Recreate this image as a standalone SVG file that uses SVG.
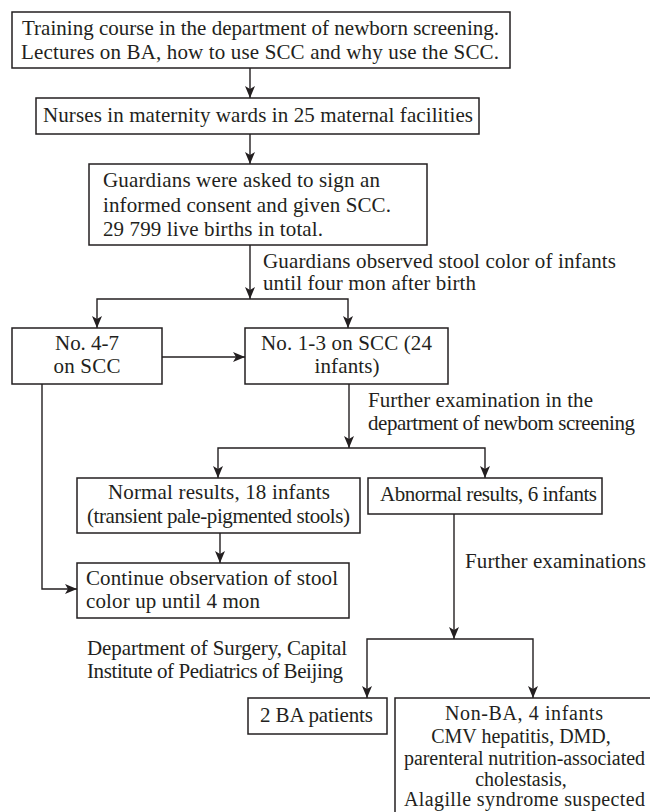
<svg xmlns="http://www.w3.org/2000/svg" width="650" height="812" viewBox="0 0 650 812">
<style>
.box{fill:#fff;stroke:#231f20;stroke-width:1.5}
.t{font-family:"Liberation Serif","Times New Roman",serif;font-size:21px;fill:#231f20}
.s{font-size:20px}
.m{text-anchor:middle}
.c{fill:none;stroke:#231f20;stroke-width:1.4}
</style>
<defs>
<marker id="ah" markerUnits="userSpaceOnUse" markerWidth="12" markerHeight="10" viewBox="0 0 12 10" refX="12" refY="5" orient="auto">
<path d="M0,0 L12,5 L0,10 L3,5 Z" fill="#231f20"/>
</marker>
</defs>
<rect width="650" height="812" fill="#fff"/>
<g id="connectors">
<path class="c" d="M250,68 V98" marker-end="url(#ah)"/>
<path class="c" d="M250,134 V164" marker-end="url(#ah)"/>
<path class="c" d="M250,245 V299" marker-end="url(#ah)"/>
<path class="c" d="M250,299 H97 V328" marker-end="url(#ah)"/>
<path class="c" d="M250,299 H348 V328" marker-end="url(#ah)"/>
<path class="c" d="M162,357 H245" marker-end="url(#ah)"/>
<path class="c" d="M349,384 V448" marker-end="url(#ah)"/>
<path class="c" d="M349,448 H218 V478" marker-end="url(#ah)"/>
<path class="c" d="M349,448 H485 V478" marker-end="url(#ah)"/>
<path class="c" d="M220,533 V563" marker-end="url(#ah)"/>
<path class="c" d="M42,384 V589 H77" marker-end="url(#ah)"/>
<path class="c" d="M454,514 V639" marker-end="url(#ah)"/>
<path class="c" d="M454,639 H367 V698" marker-end="url(#ah)"/>
<path class="c" d="M454,639 H533 V698" marker-end="url(#ah)"/>
</g>
<g id="labels">
<text class="t" x="263" y="268" textLength="353">Guardians observed stool color of infants</text>
<text class="t" x="263" y="290" textLength="213">until four mon after birth</text>
<text class="t" x="368" y="407" textLength="225">Further examination in the</text>
<text class="t" x="368" y="430" textLength="267">department of newbom screening</text>
<text class="t" x="465" y="568" textLength="181">Further examinations</text>
<text class="t" x="87" y="655" textLength="260">Department of Surgery, Capital</text>
<text class="t" x="87" y="678" textLength="256">Institute of Pediatrics of Beijing</text>
</g>
<g id="training">
<rect class="box" x="12" y="12" width="498" height="56"/>
<text class="t" x="22" y="35" textLength="477">Training course in the department of newborn screening.</text>
<text class="t" x="21" y="59" textLength="478">Lectures on BA, how to use SCC and why use the SCC.</text>
</g>
<g id="nurses">
<rect class="box" x="36" y="98" width="443" height="36"/>
<text class="t" x="43" y="122" textLength="430">Nurses in maternity wards in 25 maternal facilities</text>
</g>
<g id="guardians">
<rect class="box" x="89" y="164" width="338" height="81"/>
<text class="t" x="103" y="187" textLength="277">Guardians were asked to sign an</text>
<text class="t" x="103" y="212" textLength="288">informed consent and given SCC.</text>
<text class="t" x="103" y="236" textLength="220">29 799 live births in total.</text>
</g>
<g id="no47">
<rect class="box" x="12" y="328" width="150" height="56"/>
<text class="t m" x="87" y="350" textLength="64">No. 4-7</text>
<text class="t m" x="87" y="373" textLength="67">on SCC</text>
</g>
<g id="no13">
<rect class="box" x="245" y="328" width="203" height="56"/>
<text class="t m" x="346.5" y="350" textLength="171">No. 1-3 on SCC (24</text>
<text class="t m" x="347" y="373" textLength="65">infants)</text>
</g>
<g id="normal">
<rect class="box" x="77" y="478" width="283" height="55"/>
<text class="t" x="108" y="499" textLength="222">Normal results, 18 infants</text>
<text class="t" x="87" y="523" textLength="263">(transient pale-pigmented stools)</text>
</g>
<g id="abnormal">
<rect class="box" x="368" y="478" width="234" height="36"/>
<text class="t" x="380" y="501" textLength="217">Abnormal results, 6 infants</text>
</g>
<g id="continue">
<rect class="box" x="77" y="563" width="272" height="55"/>
<text class="t" x="86" y="585" textLength="252">Continue observation of stool</text>
<text class="t" x="86" y="608" textLength="174">color up until 4 mon</text>
</g>
<g id="ba">
<rect class="box" x="248" y="698" width="139" height="36"/>
<text class="t" x="260" y="722" textLength="113">2 BA patients</text>
</g>
<g id="nonba">
<rect class="box" x="395" y="698" width="270" height="130"/>
<text class="t s" x="445" y="720" textLength="158">Non-BA, 4 infants</text>
<text class="t s m" x="521" y="743">CMV hepatitis, DMD,</text>
<text class="t s" x="404" y="765" textLength="241">parenteral nutrition-associated</text>
<text class="t s m" x="521" y="786">cholestasis,</text>
<text class="t s" x="404" y="806" textLength="241">Alagille syndrome suspected</text>
</g>
</svg>
